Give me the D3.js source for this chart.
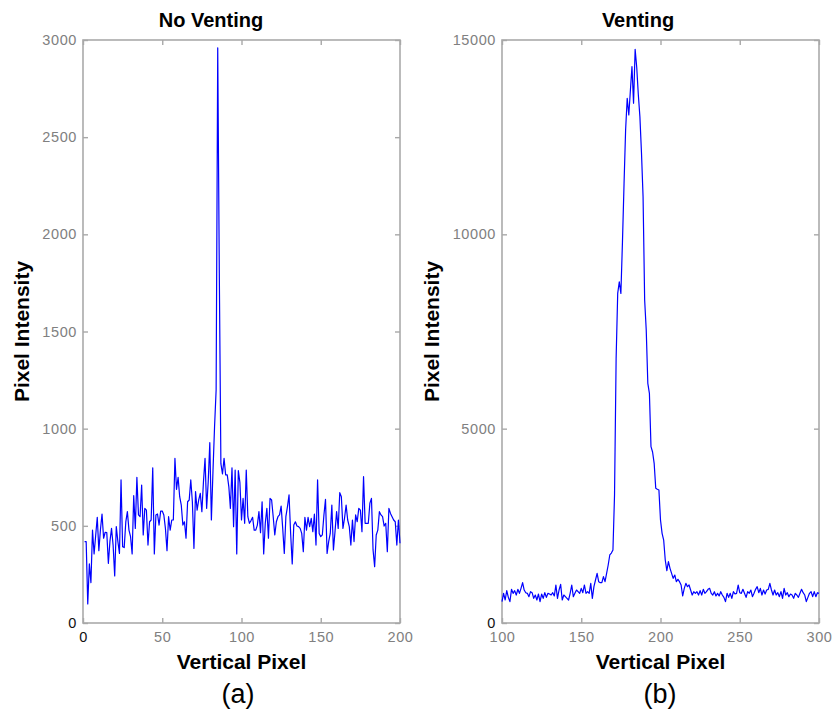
<!DOCTYPE html>
<html lang="en">
<head>
<meta charset="UTF-8">
<title>Pixel Intensity - No Venting / Venting</title>
<script src="https://d3js.org/d3.v7.min.js"></script>
<style>
    body { margin: 0; background: #fff; }
    svg { display: block; font-family: "Liberation Sans", Arial, sans-serif; }
    .tick text { fill: #808080; font-size: 14.5px; letter-spacing: 0.6px; }
    .tick line { stroke: #a8a8a8; stroke-width: 1.4; }
    .domain { display: none; }
    .frame { fill: none; stroke: #aaaaaa; stroke-width: 1.6; }
    .trace { fill: none; stroke: #0000ff; stroke-width: 1.2; stroke-linejoin: round; }
    .title, .label { font-weight: bold; fill: #000; }
</style>
</head>
<body>
<svg id="fig" width="839" height="719"></svg>
<script>
// (a) no venting: vertical pixel 1..200
const startA = 1;
const intensityA = [
    419, 419, 98, 304, 208, 478, 355, 450, 544, 372,
    480, 561, 436, 467, 465, 307, 420, 487, 400, 242,
    496, 420, 358, 736, 393, 388, 520, 573, 478, 444,
    355, 655, 487, 750, 556, 547, 710, 453, 590, 581,
    401, 521, 530, 799, 355, 556, 561, 504, 576, 576,
    556, 487, 372, 547, 478, 530, 530, 847, 688, 750,
    650, 607, 504, 521, 436, 624, 633, 736, 624, 384,
    676, 581, 633, 667, 573, 727, 847, 590, 727, 928,
    530, 779, 1010, 1200, 2960, 1800, 820, 767, 847, 762,
    762, 702, 590, 799, 496, 787, 355, 784, 722, 530,
    641, 513, 787, 547, 513, 527, 544, 478, 478, 504,
    573, 465, 624, 355, 513, 590, 436, 641, 633, 547,
    453, 521, 547, 556, 602, 487, 358, 547, 599, 659,
    461, 304, 504, 521, 499, 496, 487, 461, 367, 544,
    478, 544, 496, 539, 470, 560, 401, 736, 461, 444,
    453, 556, 636, 358, 419, 461, 607, 376, 470, 573,
    487, 671, 650, 487, 539, 607, 530, 496, 401, 530,
    419, 556, 521, 590, 581, 470, 753, 513, 513, 513,
    616, 641, 376, 290, 453, 478, 573, 556, 547, 499,
    513, 367, 590, 564, 547, 530, 521, 401, 530, 410
];

// (b) venting: vertical pixel 100..300
const startB = 100;
const intensityB = [
    549, 763, 592, 832, 660, 549, 866, 763, 832, 720,
    866, 763, 892, 1038, 849, 780, 763, 677, 806, 780,
    635, 720, 592, 746, 549, 746, 635, 780, 660, 763,
    746, 720, 780, 695, 978, 635, 849, 995, 592, 720,
    677, 635, 592, 763, 978, 677, 763, 849, 806, 763,
    892, 780, 978, 763, 806, 763, 1021, 635, 935, 1106,
    1278, 1063, 1038, 1038, 1192, 1063, 1278, 1492, 1750,
    1800, 1880, 3300, 6800, 8480, 8780, 8480, 9800, 11300, 12700,
    13500, 13070, 13700, 14314, 13372, 14760, 14300, 13600, 13028, 12100,
    10970, 8311, 7539, 6167, 5910, 4537, 4400, 4108, 3465, 3440,
    3422, 2650, 2307, 2135,
    1621, 1347, 1578, 1407, 1278, 1149, 1235, 1063, 1123, 1063,
    978, 695, 892, 1021, 935, 978, 849, 720, 806, 763,
    806, 720,
    832, 720, 866, 763, 806, 866, 892, 763, 720, 806,
    695, 763, 695, 806, 720, 660, 549, 763, 660, 763,
    635, 806, 746, 763, 978, 780, 763, 866, 763, 660, 806,
    763, 849, 677, 763, 866, 935, 780, 892, 720, 849,
    746, 849, 866, 1021, 849, 720, 849, 720, 780, 677, 806, 635,
    892, 720, 780, 677, 746, 720, 635, 763, 720, 660,
    763, 866, 780, 720, 549, 660, 763, 806, 677, 806,
    677, 780, 763
];

const xTicksA = [0, 50, 100, 150, 200];
const yTicksA = [0, 500, 1000, 1500, 2000, 2500, 3000];
const xTicksB = [100, 150, 200, 250, 300];
const yTicksB = [0, 5000, 10000, 15000];

const svg = d3.select("#fig");
const plain = d3.format("d");

function panel(opt) {
    const x = d3.scaleLinear().domain(opt.xDomain).range([opt.left, opt.right]);
    const y = d3.scaleLinear().domain(opt.yDomain).range([opt.bottom, opt.top]);
    const g = svg.append("g");

    g.append("rect").attr("class", "frame")
        .attr("x", opt.left).attr("y", opt.top)
        .attr("width", opt.right - opt.left).attr("height", opt.bottom - opt.top);

    // MATLAB style: ticks point inwards on all four sides
    g.append("g").attr("transform", `translate(0,${opt.bottom})`)
        .call(d3.axisBottom(x).tickValues(opt.xTicks).tickSize(-5).tickPadding(9).tickFormat(plain));
    g.append("g").attr("transform", `translate(0,${opt.top})`)
        .call(d3.axisTop(x).tickValues(opt.xTicks).tickSize(-5).tickFormat(""));
    g.append("g").attr("transform", `translate(${opt.left},0)`)
        .call(d3.axisLeft(y).tickValues(opt.yTicks).tickSize(-5).tickPadding(6).tickFormat(plain));
    g.append("g").attr("transform", `translate(${opt.right},0)`)
        .call(d3.axisRight(y).tickValues(opt.yTicks).tickSize(-5).tickFormat(""));

    g.selectAll(".tick text").filter(d => d === 0).style("fill", "#111");

    const line = d3.line()
        .x((d, i) => x(opt.start + i))
        .y(d => y(d));
    g.append("path").datum(opt.values).attr("class", "trace").attr("d", line);

    g.append("text").attr("class", "title")
        .attr("x", opt.titleX).attr("y", 27)
        .attr("text-anchor", "middle").style("font-size", "20px")
        .text(opt.title);

    g.append("text").attr("class", "label")
        .attr("transform", `translate(${opt.yLabelX},${(opt.top + opt.bottom) / 2}) rotate(-90)`)
        .attr("text-anchor", "middle").style("font-size", "21px")
        .text("Pixel Intensity");

    g.append("text").attr("class", "label")
        .attr("x", (opt.left + opt.right) / 2).attr("y", 669)
        .attr("text-anchor", "middle").style("font-size", "21px")
        .text("Vertical Pixel");

    g.append("text")
        .attr("x", opt.capX).attr("y", 703)
        .attr("text-anchor", "middle").style("font-size", "27px")
        .text(opt.caption);
}

panel({
    left: 83, right: 400, top: 40, bottom: 623,
    xDomain: [0, 200], yDomain: [0, 3000],
    xTicks: xTicksA, yTicks: yTicksA,
    start: startA, values: intensityA,
    title: "No Venting", titleX: 211, yLabelX: 29,
    caption: "(a)", capX: 238
});

panel({
    left: 502, right: 819, top: 40, bottom: 623,
    xDomain: [100, 300], yDomain: [0, 15000],
    xTicks: xTicksB, yTicks: yTicksB,
    start: startB, values: intensityB,
    title: "Venting", titleX: 638, yLabelX: 439,
    caption: "(b)", capX: 660
});
</script>
</body>
</html>
